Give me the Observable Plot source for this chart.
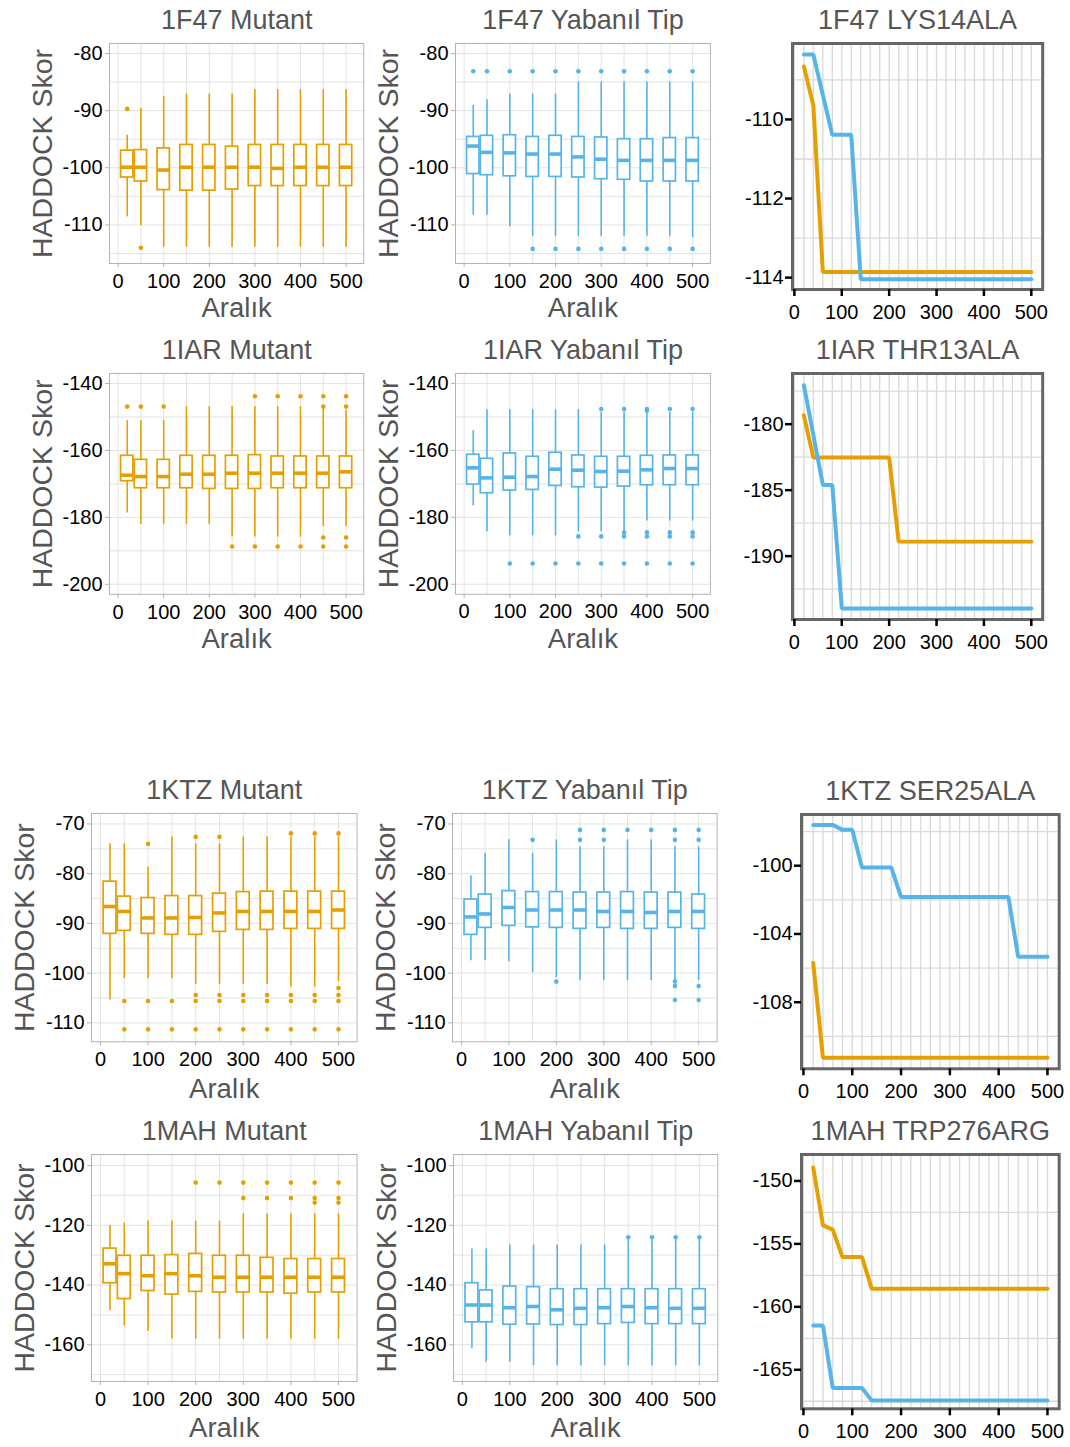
<!DOCTYPE html>
<html><head><meta charset="utf-8">
<script src="https://cdn.jsdelivr.net/npm/d3@7"></script>
<script src="https://cdn.jsdelivr.net/npm/@observablehq/plot@0.6"></script>
<style>
body{margin:0;background:#fff;}
#root{position:relative;width:1070px;height:1447px;overflow:hidden;background:#fff;}
#root svg{position:absolute;overflow:visible;}
</style></head><body><div id="root"></div>
<script>
// ---------- data ----------
const intervals = [20,50,100,150,200,250,300,350,400,450,500];
const xTickLabels = [0,100,200,300,400,500];

// box stats per interval: [lower whisker, Q1, median, Q3, upper whisker]
const f47Mutant = [[-108.6,-101.7,-99.9,-97.0,-94.3],[-110.1,-102.4,-99.9,-96.9,-89.6],[-113.9,-103.9,-100.4,-96.6,-87.5],[-113.9,-104.0,-99.9,-96.0,-87.1],[-113.9,-104.0,-99.9,-96.0,-87.1],[-113.9,-103.8,-99.9,-96.3,-87.1],[-113.9,-103.2,-99.9,-96.0,-86.3],[-113.9,-103.2,-100.1,-96.0,-86.3],[-113.9,-103.2,-99.9,-96.0,-86.3],[-113.9,-103.2,-99.9,-96.0,-86.3],[-113.9,-103.2,-99.9,-96.0,-86.3]];
const f47MutantOut = [[20,-89.7],[50,-114.0]];
const f47Wild = [[-108.3,-101.1,-96.2,-94.6,-89.1],[-108.3,-101.3,-97.3,-94.4,-88.1],[-110.3,-101.5,-97.4,-94.3,-87.1],[-112.0,-101.6,-97.6,-94.6,-87.1],[-112.0,-101.6,-97.6,-94.4,-87.1],[-112.0,-101.7,-98.1,-94.6,-85.0],[-112.0,-102.0,-98.5,-94.7,-85.0],[-112.0,-102.1,-98.7,-95.0,-85.0],[-112.0,-102.4,-98.7,-95.0,-85.0],[-112.0,-102.4,-98.7,-94.8,-85.0],[-112.2,-102.4,-98.7,-94.8,-85.0]];
const f47WildOut = [[20,-83.1],[50,-83.1],[100,-83.1],[150,-83.1],[200,-83.1],[250,-83.1],[300,-83.1],[350,-83.1],[400,-83.1],[450,-83.1],[500,-83.1],[150,-114.2],[200,-114.2],[250,-114.2],[300,-114.2],[350,-114.2],[400,-114.2],[450,-114.2],[500,-114.2]];

const iarMutant = [[-178.7,-169.2,-167.4,-161.6,-151.1],[-182.1,-171.3,-167.8,-162.8,-151.1],[-182.1,-171.3,-167.8,-162.8,-151.1],[-182.1,-171.3,-167.1,-161.6,-146.9],[-182.1,-171.5,-167.1,-161.6,-146.9],[-185.9,-171.5,-166.8,-161.6,-146.9],[-185.9,-171.5,-166.8,-161.4,-146.9],[-185.9,-171.3,-166.8,-161.8,-146.9],[-185.9,-171.3,-166.8,-161.8,-146.9],[-182.7,-171.3,-166.8,-161.8,-147.6],[-182.7,-171.3,-166.4,-161.8,-148.1]];
const iarMutantOut = [[20,-146.9],[50,-146.9],[100,-146.9],[250,-188.7],[300,-143.8],[300,-188.7],[350,-143.8],[350,-188.7],[400,-143.8],[400,-188.7],[450,-143.8],[450,-146.9],[450,-186.0],[450,-188.7],[500,-143.8],[500,-146.9],[500,-186.0],[500,-188.7]];
const iarWild = [[-176.6,-170.2,-165.2,-161.3,-154.1],[-184.3,-172.8,-168.2,-162.5,-147.8],[-185.5,-172.0,-168.0,-160.9,-147.8],[-185.5,-171.8,-167.8,-161.9,-147.8],[-185.5,-170.6,-165.6,-160.7,-147.8],[-184.3,-171.0,-165.9,-161.5,-147.8],[-184.3,-171.1,-166.3,-161.9,-148.6],[-184.3,-170.8,-166.2,-161.9,-148.6],[-181.1,-170.4,-165.8,-161.6,-148.6],[-181.1,-170.4,-165.4,-161.5,-148.6],[-181.1,-170.4,-165.4,-161.5,-148.6]];
const iarWildOut = [[100,-193.8],[150,-193.8],[200,-193.8],[250,-185.7],[250,-193.8],[300,-147.6],[300,-185.7],[300,-193.8],[350,-147.6],[350,-184.5],[350,-185.7],[350,-193.8],[400,-147.6],[400,-148.1],[400,-184.5],[400,-185.7],[400,-193.8],[450,-147.6],[450,-184.5],[450,-185.7],[450,-193.8],[500,-147.6],[500,-184.5],[500,-185.7],[500,-193.8]];

const ktzMutant = [[-105.4,-92.1,-86.6,-81.6,-74.0],[-101.1,-91.5,-87.6,-84.6,-74.0],[-101.1,-92.1,-88.9,-84.9,-78.7],[-101.1,-92.3,-88.9,-84.5,-72.6],[-102.3,-92.3,-88.8,-84.5,-74.0],[-102.3,-91.7,-87.9,-84.0,-74.0],[-102.3,-91.3,-87.6,-83.7,-72.6],[-102.3,-91.3,-87.6,-83.6,-72.6],[-102.8,-91.1,-87.6,-83.6,-72.6],[-102.8,-91.1,-87.6,-83.6,-72.6],[-101.7,-91.1,-87.3,-83.6,-72.6]];
const ktzMutantOut = [[50,-105.6],[50,-111.3],[100,-74.0],[100,-105.6],[100,-111.3],[150,-105.6],[150,-111.3],[200,-72.6],[200,-104.4],[200,-105.6],[200,-111.3],[250,-72.6],[250,-104.4],[250,-105.6],[250,-111.3],[300,-104.4],[300,-105.6],[300,-111.3],[350,-104.4],[350,-105.6],[350,-111.3],[400,-71.9],[400,-104.4],[400,-105.6],[400,-111.3],[450,-71.9],[450,-104.4],[450,-105.6],[450,-111.3],[500,-71.9],[500,-103.0],[500,-104.4],[500,-105.6],[500,-111.3]];
const ktzWild = [[-97.5,-92.3,-88.7,-85.2,-80.4],[-97.5,-90.9,-88.1,-84.2,-75.9],[-97.7,-90.5,-86.8,-83.5,-73.2],[-99.9,-90.8,-87.3,-83.7,-75.9],[-100.9,-90.9,-87.3,-83.7,-73.2],[-101.5,-91.1,-87.3,-83.8,-74.6],[-101.5,-90.9,-87.6,-83.8,-74.6],[-101.5,-91.1,-87.6,-83.7,-73.2],[-101.5,-91.1,-87.8,-83.8,-73.2],[-101.5,-90.9,-87.6,-83.8,-74.6],[-101.5,-91.1,-87.6,-84.2,-74.6]];
const ktzWildOut = [[150,-73.2],[200,-101.7],[250,-71.2],[250,-73.2],[300,-71.2],[300,-73.2],[350,-71.2],[400,-71.2],[450,-71.2],[450,-73.2],[450,-101.7],[450,-102.6],[450,-105.4],[500,-71.2],[500,-73.2],[500,-102.6],[500,-105.4]];

const mahMutant = [[-148.5,-139.4,-132.9,-127.8,-120.1],[-153.7,-144.7,-136.2,-130.2,-119.3],[-155.6,-142.0,-136.9,-130.2,-118.6],[-158.1,-143.2,-136.2,-130.0,-118.6],[-158.1,-142.3,-136.9,-129.6,-118.6],[-158.1,-142.5,-137.4,-130.2,-118.6],[-158.1,-142.5,-137.4,-130.2,-116.2],[-158.1,-142.5,-137.4,-130.9,-116.2],[-158.1,-142.9,-137.4,-131.3,-116.2],[-158.1,-142.5,-137.4,-131.3,-116.2],[-158.1,-142.5,-137.4,-131.3,-116.2]];
const mahMutantOut = [[200,-105.7],[250,-105.7],[300,-105.7],[300,-110.9],[350,-105.7],[350,-110.9],[400,-105.7],[400,-110.9],[450,-105.7],[450,-110.9],[450,-112.4],[500,-105.7],[500,-110.9],[500,-112.4]];
const mahWild = [[-161.3,-152.5,-146.7,-139.4,-127.9],[-165.9,-152.5,-146.7,-141.8,-127.9],[-165.9,-153.3,-147.6,-140.5,-126.6],[-167.0,-153.2,-147.2,-140.7,-126.6],[-167.0,-153.4,-148.3,-141.4,-126.6],[-167.0,-153.4,-147.8,-141.4,-126.6],[-167.0,-153.1,-147.6,-141.4,-126.6],[-167.0,-152.7,-147.2,-141.4,-124.2],[-167.0,-153.1,-147.6,-141.4,-124.2],[-167.0,-153.1,-147.8,-141.4,-124.2],[-167.0,-153.1,-147.8,-141.4,-124.2]];
const mahWildOut = [[350,-124.0],[400,-124.0],[450,-124.0],[500,-124.0]];

// best-score traces: [interval, score]
const f47LineMut = [[20,-108.66],[40,-109.65],[60,-113.86],[500,-113.86]];
const f47LineWild = [[20,-108.36],[40,-108.36],[80,-110.39],[120,-110.39],[140,-114.04],[500,-114.04]];
const iarLineMut = [[20,-179.32],[40,-182.53],[200,-182.53],[220,-188.9],[500,-188.9]];
const iarLineWild = [[20,-177.05],[60,-184.6],[80,-184.6],[100,-193.96],[500,-193.96]];
const ktzLineMut = [[20,-105.69],[40,-111.26],[500,-111.26]];
const ktzLineWild = [[20,-97.61],[60,-97.61],[80,-97.9],[100,-97.9],[120,-100.1],[180,-100.1],[200,-101.84],[420,-101.84],[440,-105.34],[500,-105.34]];
const mahLineMut = [[20,-148.94],[40,-153.53],[60,-153.87],[80,-156.05],[120,-156.05],[140,-158.57],[500,-158.57]];
const mahLineWild = [[20,-161.49],[40,-161.49],[60,-166.45],[120,-166.45],[140,-167.45],[500,-167.45]];

// ---------- drawing ----------
const ORANGE = "#E69F00", BLUE = "#56B4E9";
const FONT = "'Liberation Sans', Arial, sans-serif";
const TITLE_COLOR = "#555555";
const root = document.getElementById("root");
const fmt = d => String(d);
const range = (a, b, s) => d3.range(a, b + s / 2, s);

function place(svg, l, t) {
  svg.style.left = l + "px";
  svg.style.top = t + "px";
  root.appendChild(svg);
}

function boxPanel({stats, outliers, color, title, frame, yDomain, yTicks, yStep, xTitleDy = 45}) {
  const [l, t, r, b] = frame;
  const ML = 80, MT = 48, MR = 6, MB = 64;
  const HW = 13.5;
  const rows = intervals.map((x, i) => ({x, lo: stats[i][0], q1: stats[i][1], med: stats[i][2], q3: stats[i][3], hi: stats[i][4]}));
  const outs = outliers.map(([x, v]) => ({x, v}));
  const svg = Plot.plot({
    width: r - l + ML + MR, height: b - t + MT + MB,
    marginLeft: ML, marginTop: MT, marginRight: MR, marginBottom: MB,
    x: {domain: [-18.85, 538.85]},
    y: {domain: yDomain},
    style: {fontFamily: FONT, fontSize: "20px", color: "black", background: "transparent"},
    marks: [
      Plot.gridX(range(0, 500, 50), {stroke: "#e3e3e3", strokeOpacity: 1, strokeWidth: 1}),
      Plot.gridY(range(yTicks[yTicks.length - 1] - yStep, yTicks[0] + yStep, yStep / 2).filter(v => v > yDomain[0] && v < yDomain[1]), {stroke: "#e3e3e3", strokeOpacity: 1, strokeWidth: 1}),
      Plot.ruleX(rows, {x: "x", y1: "lo", y2: "hi", stroke: color, strokeWidth: 1.6}),
      Plot.rect(rows, {x1: d => d.x - HW, x2: d => d.x + HW, y1: "q1", y2: "q3", fill: "white", stroke: color, strokeWidth: 1.7}),
      Plot.ruleY(rows, {y: "med", x1: d => d.x - HW, x2: d => d.x + HW, stroke: color, strokeWidth: 3.6}),
      Plot.dot(outs, {x: "x", y: "v", r: 2.3, fill: color, stroke: null}),
      Plot.frame({stroke: "#b3b3b3", strokeWidth: 1}),
      Plot.axisX(xTickLabels, {tickSize: 4, tickPadding: 6, stroke: "#b3b3b3", fill: "black", label: null, tickFormat: fmt}),
      Plot.axisY(yTicks, {tickSize: 4, tickPadding: 3, stroke: "#b3b3b3", fill: "black", label: null, tickFormat: fmt}),
      Plot.text([title], {text: d => d, frameAnchor: "top", dy: -23, lineAnchor: "middle", fontSize: 27, fill: TITLE_COLOR}),
      Plot.text(["HADDOCK Skor"], {text: d => d, frameAnchor: "left", dx: -67, rotate: -90, textAnchor: "middle", lineAnchor: "middle", fontSize: 28.5, fill: TITLE_COLOR}),
      Plot.text(["Aralık"], {text: d => d, frameAnchor: "bottom", dy: xTitleDy, lineAnchor: "middle", fontSize: 27.5, fill: TITLE_COLOR})
    ]
  });
  place(svg, l - ML, t - MT);
}

function linePanel({mut, wild, title, frame, yDomain, yTicks, yGrid}) {
  const [l, t, r, b] = frame;
  const ML = 70, MT = 48, MR = 8, MB = 44;
  const svg = Plot.plot({
    width: r - l + ML + MR, height: b - t + MT + MB,
    marginLeft: ML, marginTop: MT, marginRight: MR, marginBottom: MB,
    x: {domain: [-4, 524]},
    y: {domain: yDomain},
    style: {fontFamily: FONT, fontSize: "20px", color: "black", background: "transparent"},
    marks: [
      Plot.gridX(range(0, 500, 20), {stroke: "#d9d9d9", strokeOpacity: 1, strokeWidth: 1.3}),
      Plot.gridY(yGrid, {stroke: "#d9d9d9", strokeOpacity: 1, strokeWidth: 1.3}),
      Plot.line(mut, {x: d => d[0], y: d => d[1], stroke: ORANGE, strokeWidth: 4, strokeLinejoin: "miter"}),
      Plot.line(wild, {x: d => d[0], y: d => d[1], stroke: BLUE, strokeWidth: 4, strokeLinejoin: "miter"}),
      Plot.frame({stroke: "#666666", strokeWidth: 3}),
      Plot.axisX(xTickLabels, {tickSize: 7, tickPadding: 8, stroke: "black", strokeWidth: 2.5, fill: "black", label: null, tickFormat: fmt}),
      Plot.axisY(yTicks, {tickSize: 7, tickPadding: 2, stroke: "black", strokeWidth: 2.5, fill: "black", label: null, tickFormat: fmt}),
      Plot.text([title], {text: d => d, frameAnchor: "top", dy: -23, lineAnchor: "middle", fontSize: 27, fill: TITLE_COLOR})
    ]
  });
  place(svg, l - ML, t - MT);
}

// Row 1: 1F47
boxPanel({stats: f47Mutant, outliers: f47MutantOut, color: ORANGE, title: "1F47 Mutant", frame: [108.7, 43.3, 363, 263.3], yDomain: [-116.75, -78.25], yTicks: [-80, -90, -100, -110], yStep: 10});
boxPanel({stats: f47Wild, outliers: f47WildOut, color: BLUE, title: "1F47 Yabanıl Tip", frame: [455.4, 43.3, 710.3, 263.3], yDomain: [-116.75, -78.25], yTicks: [-80, -90, -100, -110], yStep: 10});
linePanel({mut: f47LineMut, wild: f47LineWild, title: "1F47 LYS14ALA", frame: [791.5, 43.3, 1041.7, 289.3], yDomain: [-114.3, -108.08], yTicks: [-110, -112, -114], yGrid: [-109, -111, -113]});

// Row 2: 1IAR
boxPanel({stats: iarMutant, outliers: iarMutantOut, color: ORANGE, title: "1IAR Mutant", frame: [108.7, 372.7, 363, 593.5], yDomain: [-203, -137], yTicks: [-140, -160, -180, -200], yStep: 20});
boxPanel({stats: iarWild, outliers: iarWildOut, color: BLUE, title: "1IAR Yabanıl Tip", frame: [455.4, 372.7, 710.3, 593.5], yDomain: [-203, -137], yTicks: [-140, -160, -180, -200], yStep: 20});
linePanel({mut: iarLineMut, wild: iarLineWild, title: "1IAR THR13ALA", frame: [791.5, 373.3, 1041.7, 619.3], yDomain: [-194.8, -176.16], yTicks: [-180, -185, -190], yGrid: [-177.5, -182.5, -187.5, -192.5]});

// Row 3: 1KTZ
boxPanel({stats: ktzMutant, outliers: ktzMutantOut, color: ORANGE, title: "1KTZ Mutant", frame: [91, 812.7, 356.5, 1041], yDomain: [-113.8, -67.9], yTicks: [-70, -80, -90, -100, -110], yStep: 10, xTitleDy: 47});
boxPanel({stats: ktzWild, outliers: ktzWildOut, color: BLUE, title: "1KTZ Yabanıl Tip", frame: [451.8, 812.7, 716.4, 1041], yDomain: [-113.8, -67.9], yTicks: [-70, -80, -90, -100, -110], yStep: 10, xTitleDy: 47});
linePanel({mut: ktzLineMut, wild: ktzLineWild, title: "1KTZ SER25ALA", frame: [800.7, 814, 1058.4, 1068.3], yDomain: [-111.9, -97.0], yTicks: [-100, -104, -108], yGrid: [-98, -102, -106, -110]});

// Row 4: 1MAH
boxPanel({stats: mahMutant, outliers: mahMutantOut, color: ORANGE, title: "1MAH Mutant", frame: [91, 1154, 356.5, 1381], yDomain: [-172.3, -96.3], yTicks: [-100, -120, -140, -160], yStep: 20, xTitleDy: 47});
boxPanel({stats: mahWild, outliers: mahWildOut, color: BLUE, title: "1MAH Yabanıl Tip", frame: [452.7, 1154, 717, 1381], yDomain: [-172.3, -96.3], yTicks: [-100, -120, -140, -160], yStep: 20, xTitleDy: 47});
linePanel({mut: mahLineMut, wild: mahLineWild, title: "1MAH TRP276ARG", frame: [800.7, 1154, 1058.4, 1408.3], yDomain: [-168.1, -147.9], yTicks: [-150, -155, -160, -165], yGrid: [-152.5, -157.5, -162.5, -167.5]});
</script>
</body></html>
